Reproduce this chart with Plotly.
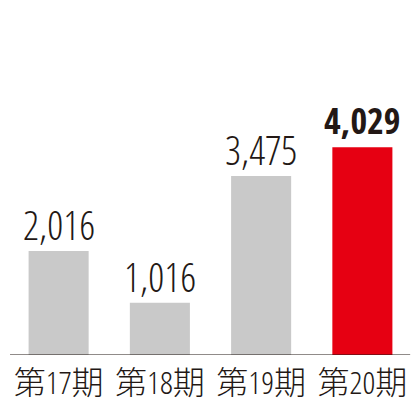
import plotly.graph_objects as go

categories = ["第17期", "第18期", "第19期", "第20期"]
values = [2016, 1016, 3475, 4029]
value_labels = ["2,016", "1,016", "3,475", "4,029"]
bar_colors = ["#c9c9c9", "#c9c9c9", "#c9c9c9", "#e60012"]
label_bold = [False, False, False, True]

TEXT = "#231815"
LIGHT = "Open Sans Condensed Light, Noto Sans CJK JP, sans-serif"
BOLD = "Open Sans Condensed, Noto Sans CJK JP, sans-serif"

fig = go.Figure()
fig.add_trace(go.Bar(
    x=categories, y=values,
    marker=dict(color=bar_colors, line=dict(width=0)),
    hoverinfo="skip",
))

for c, v, t, b in zip(categories, values, value_labels, label_bold):
    fig.add_annotation(
        x=c, y=v, text=t,
        showarrow=False, yanchor="bottom", yshift=0 if b else -3,
        font=dict(family=BOLD if b else LIGHT, size=36 if b else 40,
                  weight=700 if b else 300, color=TEXT),
    )

fig.add_shape(type="line", xref="paper", yref="y", x0=0.005, x1=0.993, y0=0, y1=0,
              line=dict(color=TEXT, width=1.2))

fig.update_layout(
    width=412, height=412,
    margin=dict(l=0, r=7, t=12, b=65, autoexpand=False),
    paper_bgcolor="white", plot_bgcolor="white",
    bargap=0.407,
    showlegend=False,
    xaxis=dict(showline=False, showgrid=False, zeroline=False, ticks="", automargin=False,
               ticklabelstandoff=6,
               tickfont=dict(family=LIGHT, size=32, weight=300, color=TEXT)),
    yaxis=dict(range=[0, 6500], visible=False, showgrid=False, zeroline=False, automargin=False),
)

fig.write_html("out.html")
